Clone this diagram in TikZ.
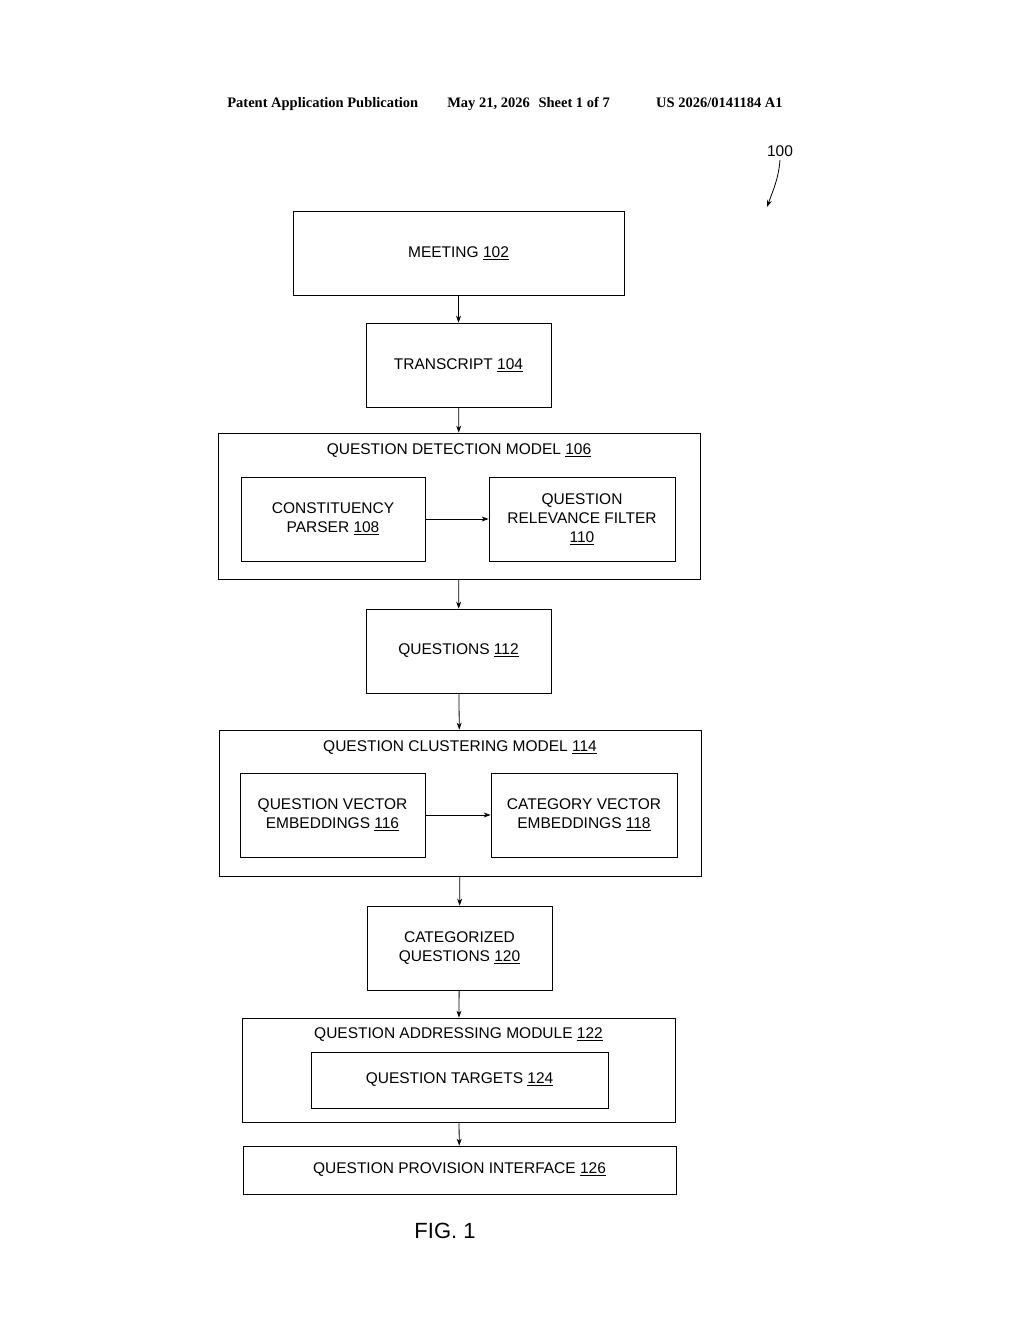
\documentclass[tikz,border=0pt]{standalone}
\usepackage{fontspec}
\setmainfont{Liberation Sans}
\newfontfamily\hdrfont{Liberation Serif}
\usetikzlibrary{arrows.meta,positioning}
\newcommand{\ul}[1]{\underline{#1}}
\begin{document}
\begin{tikzpicture}[x=1pt,y=-1pt,>={Stealth[length=7pt,width=5pt]},semithick,
                    font=\fontsize{15.5}{19}\selectfont]
  \tikzset{blk/.style={draw,thick,align=center,inner sep=0pt},
           flow/.style={->,thick}}
  \useasboundingbox (0,0) rectangle (1024,1320);

  \node[font=\hdrfont\bfseries\fontsize{14.5}{17}\selectfont,anchor=base] (hdr) at (505,107)
    {Patent Application Publication\hspace{2em}May 21, 2026\hspace{0.6em}Sheet 1 of 7\hspace{3.2em}US 2026/0141184 A1};
  \node (ref) at (780,151) {100};
  \coordinate (refEnd) at (767,207);

  \node[blk,minimum width=331,minimum height=84] (A) at (458.5,253) {MEETING \ul{102}};
  \node[blk,minimum width=185,minimum height=84] (B) at (458.5,365) {TRANSCRIPT \ul{104}};
  \node[blk,minimum width=482,minimum height=146] (C) at (459,506) {};
  \node[anchor=center] (Cl) at (459,451) {QUESTION DETECTION MODEL \ul{106}};
  \node[blk,minimum width=184,minimum height=84] (C1) at (333,519) {CONSTITUENCY\\PARSER \ul{108}};
  \node[blk,minimum width=186,minimum height=84] (C2) at (582,519) {QUESTION\\RELEVANCE FILTER\\\ul{110}};
  \node[blk,minimum width=185,minimum height=84] (D) at (458.5,651) {QUESTIONS \ul{112}};
  \node[blk,minimum width=482,minimum height=146] (E) at (460,803) {};
  \node (El) at (460,748) {QUESTION CLUSTERING MODEL \ul{114}};
  \node[blk,minimum width=185,minimum height=84] (E1) at (332.5,815) {QUESTION VECTOR\\EMBEDDINGS \ul{116}};
  \node[blk,minimum width=186,minimum height=84] (E2) at (584,815) {CATEGORY VECTOR\\EMBEDDINGS \ul{118}};
  \node[blk,minimum width=185,minimum height=84] (F) at (459.5,948) {CATEGORIZED\\QUESTIONS \ul{120}};
  \node[blk,minimum width=433,minimum height=104] (G) at (458.5,1070) {};
  \node (Gl) at (458.5,1035) {QUESTION ADDRESSING MODULE \ul{122}};
  \node[blk,minimum width=297,minimum height=56] (G1) at (459.5,1080) {QUESTION TARGETS \ul{124}};
  \node[blk,minimum width=433,minimum height=48] (H) at (459.5,1170) {QUESTION PROVISION INTERFACE \ul{126}};
  \node[font=\fontsize{22}{26}\selectfont] (fig) at (445,1231) {FIG. 1};

  \draw[flow] (ref.south) to[out=-95,in=70] (refEnd);
  \draw[flow] (A) -- (B);
  \draw[flow] (B) -- (C);
  \draw[flow] (C1) -- (C2);
  \draw[flow] (C) -- (D);
  \draw[flow] (D) -- (E);
  \draw[flow] (E1) -- (E2);
  \draw[flow] (E) -- (F);
  \draw[flow] (F) -- (G);
  \draw[flow] (G) -- (H);
\end{tikzpicture}
\end{document}
